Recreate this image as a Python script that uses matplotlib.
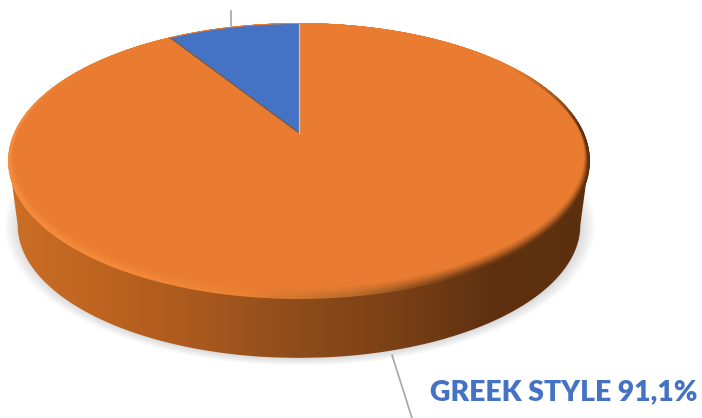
import matplotlib
matplotlib.use("Agg")
import matplotlib.pyplot as plt
import numpy as np
from matplotlib.collections import LineCollection
from matplotlib.colors import LinearSegmentedColormap, to_rgb
from matplotlib.patches import Polygon

# slice values, clockwise from 12 o'clock
slice_names = ["GREEK STYLE", "OTHER"]
slice_values = [91.1, 8.9]
slice_colors = ["#E97C30", "#4472C4"]

# disc geometry in pixels
cx, apex_y = 299, 133
persp = 0.2044
scale_x, scale_y = 283.9, 131.3
wall_drop = 64
wall_shrink = 0.97
mid_y = 161

wall_stops = ["#CC6E26", "#BC6420", "#A9581E", "#8E4C1A", "#7A4016", "#5F3110", "#5C300F"]
rim_stops = ["#F68E3E", "#F48A3A", "#EC8234", "#B86A2A", "#6E3A14", "#5E3010"]
wall_cmap = LinearSegmentedColormap.from_list("wall", wall_stops)
rim_cmap = LinearSegmentedColormap.from_list("rim", rim_stops)


def project(theta, r=1.0):
    # theta is clockwise from the top of the disc, in radians
    u = r * np.sin(theta)
    v = -r * np.cos(theta)
    w = 1 - persp * v
    return cx + scale_x * u / w, apex_y + scale_y * v / w


def wedge_points(start, end):
    t = np.linspace(start, end, 200)
    x, y = project(t)
    return np.column_stack([np.r_[cx, x], np.r_[apex_y, y]])


fig = plt.figure(figsize=(7.02, 4.18), dpi=100)
ax = fig.add_axes([0, 0, 1, 1])

t = np.linspace(0, 2 * np.pi, 721)
top_x, top_y = project(t)
low_x = cx + (top_x - cx) * wall_shrink
low_y = mid_y + (top_y - mid_y) * wall_shrink + wall_drop

# soft shadow under the disc
for grow in np.linspace(1.05, 0.99, 14):
    sx = cx + 1 + (low_x - cx) * grow
    sy = mid_y + wall_drop + 1 + (low_y - mid_y - wall_drop) * grow
    ax.add_patch(Polygon(np.column_stack([sx, sy]), closed=True, fc="#6A6A6A", ec="none", alpha=0.018, zorder=1))

# side wall: hull of the two rims, shaded left to right
top_half = (top_x.max() - top_x.min()) / 2
low_half = (low_x.max() - low_x.min()) / 2
low_mid = mid_y + wall_drop
rows = np.linspace(top_y.min(), low_y.max(), 600)
half = np.where(
    rows < mid_y,
    top_half * np.sqrt(np.clip(1 - ((rows - mid_y) / (mid_y - top_y.min())) ** 2, 0, 1)),
    np.where(
        rows < low_mid,
        top_half + (low_half - top_half) * (rows - mid_y) / wall_drop,
        low_half * np.sqrt(np.clip(1 - ((rows - low_mid) / (low_y.max() - low_mid)) ** 2, 0, 1)),
    ),
)
wall_outline = np.column_stack([np.r_[cx + half, (cx - half)[::-1]], np.r_[rows, rows[::-1]]])
wall_patch = Polygon(wall_outline, closed=True, fc="none", ec="none", transform=ax.transData)
ax.add_patch(wall_patch)
wall_img = ax.imshow(np.linspace(0, 1, 512)[None, :], extent=[9, 589, 400, 100], cmap=wall_cmap,
                     aspect="auto", zorder=2, interpolation="bilinear")
wall_img.set_clip_path(wall_patch)

# top faces from the slice values
edges = np.r_[0, np.cumsum(slice_values)] / sum(slice_values) * 2 * np.pi
ax.add_patch(Polygon(np.column_stack([top_x, top_y]), closed=True, fc=slice_colors[0], ec="none", zorder=3))
face_rgb = np.array(to_rgb(slice_colors[0]))

# bevel round the rim, wider at the front and gone at the back
n_layers = 16
fade = np.clip((-np.cos(t[:-1]) + 0.55) / 0.5, 0, 1)
for i in range(n_layers):
    f = i / (n_layers - 1)
    width = 0.006 + 0.045 * np.clip(-np.cos(t), 0, 1)
    px, py = project(t, 1 - width * (1 - f))
    pos = np.clip((px[:-1] - 9) / 580, 0, 1)
    rim = rim_cmap(pos)[:, :3]
    mix = (f ** 1.3 * fade)[:, None]
    cols = face_rgb * (1 - mix) + rim * mix
    pts = np.column_stack([px, py])
    segs = np.stack([pts[:-1], pts[1:]], axis=1)
    ax.add_collection(LineCollection(segs, colors=cols, linewidths=1.3, zorder=4, capstyle="round"))

# the minor slice sits on top with its thin edge lines
blue = wedge_points(edges[1], edges[2])
ax.add_patch(Polygon(blue, closed=True, fc=slice_colors[1], ec="none", zorder=5))
ax.plot([blue[0, 0], blue[1, 0]], [blue[0, 1], blue[1, 1]], color="#7A5A3A", lw=0.8, zorder=6)
ax.plot([blue[0, 0], blue[-1, 0]], [blue[0, 1], blue[-1, 1]], color="#C9C4C0", lw=0.9, zorder=6)

# leader lines
ax.plot([231, 231], [11, 26], color="#A6A6A6", lw=1.2, zorder=6)
ax.plot([392, 412], [355, 418], color="#A6A6A6", lw=1.2, zorder=6)

label = f"{slice_names[0]} {slice_values[0]:.1f}%".replace(".", ",")
ax.text(698, 392, label, color="#4472C4", fontsize=20.4, fontweight="heavy", family="Lato",
        ha="right", va="center", zorder=7)

ax.set_xlim(0, 702)
ax.set_ylim(418, 0)
ax.axis("off")
fig.savefig("out.png", dpi=100)
